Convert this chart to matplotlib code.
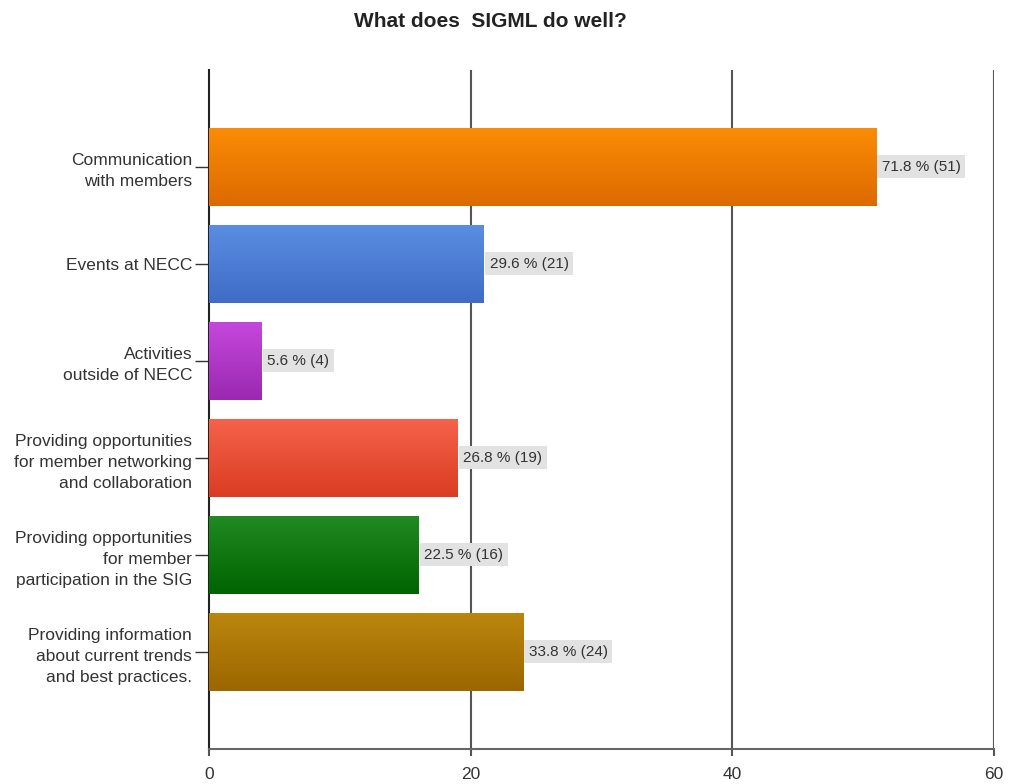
import numpy as np
import matplotlib
matplotlib.use("Agg")
import matplotlib.pyplot as plt
from matplotlib.colors import LinearSegmentedColormap

plt.rcParams['font.family'] = ['Liberation Sans', 'DejaVu Sans']

# data
categories = [
    "Communication\nwith members",
    "Events at NECC",
    "Activities\noutside of NECC",
    "Providing opportunities\nfor member networking\nand collaboration",
    "Providing opportunities\nfor member\nparticipation in the SIG",
    "Providing information\nabout current trends\nand best practices.",
]
counts = [51, 21, 4, 19, 16, 24]
percents = [71.8, 29.6, 5.6, 26.8, 22.5, 33.8]
x_ticks = [0, 20, 40, 60]

# top / bottom colour of each gradient bar
top_colors = ["#fb8c06", "#5a8ee2", "#c548dc", "#f5634a", "#218a21", "#bb860e"]
bottom_colors = ["#dc6a00", "#3e6cc6", "#9a28b0", "#da3c22", "#006400", "#9c6600"]

fig = plt.figure(figsize=(10.09, 7.84), dpi=100)
ax = fig.add_axes([0.207, 0.045, 0.778, 0.866])

ypos = np.arange(len(categories))
bars = ax.barh(ypos, counts, height=0.8, color="none", edgecolor="none", zorder=3)

# fill each bar with a vertical gradient
grad = np.linspace(0, 1, 256).reshape(-1, 1)
for bar, c_top, c_bot in zip(bars, top_colors, bottom_colors):
    cmap = LinearSegmentedColormap.from_list("g", [c_top, c_bot])
    x0, y0 = bar.get_x(), bar.get_y()
    w, h = bar.get_width(), bar.get_height()
    im = ax.imshow(grad, cmap=cmap, aspect="auto", extent=[x0, x0 + w, y0 + h, y0],
                   zorder=3, interpolation="bilinear")
    im.set_clip_path(bar)

# value labels
for y, c, p in zip(ypos, counts, percents):
    ax.text(c + 0.45, y, f"{p} % ({c})", va="center", ha="left", fontsize=11,
            color="#333333", zorder=5,
            bbox=dict(boxstyle="square,pad=0.3", facecolor="#e2e2e2", edgecolor="none"))

ax.set_xlim(0, 60)
ax.set_ylim(len(categories), -1)
ax.set_xticks(x_ticks)
ax.set_xticklabels([str(t) for t in x_ticks], fontsize=12.5, color="#333333")
ax.set_yticks(ypos)
ax.set_yticklabels(categories, fontsize=12.5, color="#333333", linespacing=1.5)

for t in x_ticks[1:]:
    ax.axvline(t, color="#555555", lw=1.5, zorder=2)

for s in ["top", "right"]:
    ax.spines[s].set_visible(False)
ax.spines["left"].set_color("#222222")
ax.spines["left"].set_linewidth(1.5)
ax.spines["bottom"].set_color("#666666")
ax.spines["bottom"].set_linewidth(1.5)
ax.tick_params(axis="y", length=10, width=1, color="#333333", pad=2)
ax.tick_params(axis="x", length=5, width=1.5, color="#555555", pad=8)

fig.text(0.486, 0.972, "What does  SIGML do well?", ha="center", va="center",
         fontsize=15, fontweight="bold", color="#222222")

fig.savefig("out.png", dpi=100)
